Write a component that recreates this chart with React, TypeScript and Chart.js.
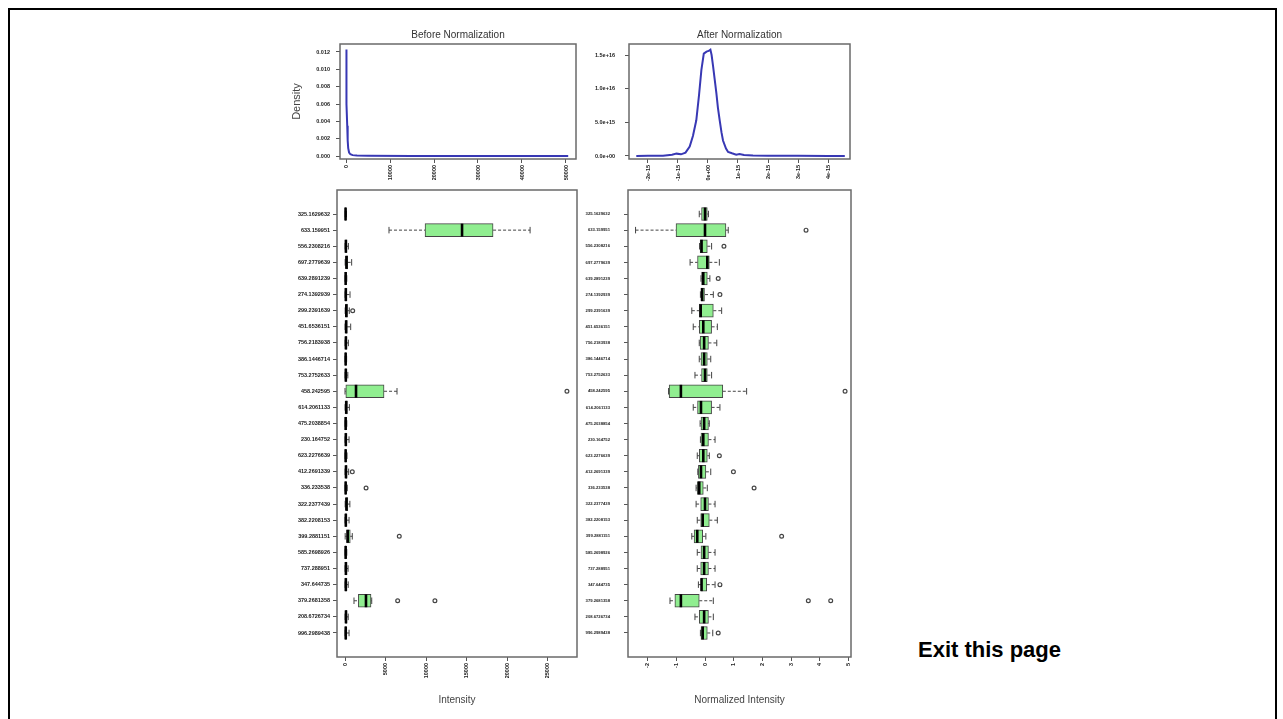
import React, { useEffect, useRef } from 'react';
import { Chart, registerables } from 'chart.js';

Chart.register(...registerables);

const FONT = "'Liberation Sans', Arial, sans-serif";
const BLUE = '#3838b4';
const BOX_FILL = '#90ee90';

// ---- Before normalization: density of raw intensity ----
const beforeDensityX = [0, 20, 50, 100, 150, 200, 280, 380, 500, 700, 1000, 1500, 2500, 5000, 15000, 30000, 50500];
const beforeDensityY = [0.0059, 0.0105, 0.0123, 0.0112, 0.0085, 0.006, 0.0035, 0.0018, 0.0009, 0.0004, 0.0002, 0.0001, 0.00005, 0.00002, 0.00001, 0.00001, 0.00001];
const beforeXTicks = [0, 10000, 20000, 30000, 40000, 50000];
const beforeYTicks = [0, 0.002, 0.004, 0.006, 0.008, 0.01, 0.012];

// ---- After normalization: density of normalized intensity ----
const afterDensityX = [-2.39e-15, -2.0e-15, -1.5e-15, -1.2e-15, -1.05e-15, -0.9e-15, -0.75e-15, -0.61e-15, -0.5e-15, -0.39e-15, -0.3e-15, -0.22e-15, -0.14e-15, -0.05e-15, 0.02e-15, 0.08e-15, 0.12e-15, 0.17e-15, 0.22e-15, 0.28e-15, 0.33e-15, 0.39e-15, 0.45e-15, 0.5e-15, 0.6e-15, 0.67e-15, 0.8e-15, 0.94e-15, 1.05e-15, 1.2e-15, 1.5e-15, 2.0e-15, 3.0e-15, 4.0e-15, 4.56e-15];
const afterDensityY = [0, 2e13, 5e13, 2e14, 3.5e14, 2.5e14, 5e14, 1.4e15, 3e15, 5.3e15, 9e15, 1.28e16, 1.52e16, 1.55e16, 1.56e16, 1.58e16, 1.5e16, 1.33e16, 1.15e16, 9.3e15, 7.2e15, 5.3e15, 3.5e15, 2.3e15, 1.1e15, 6e14, 4e14, 2e14, 3e14, 1.5e14, 8e13, 5e13, 2e13, 1e13, 0];
const afterXTicks = [-2e-15, -1e-15, 0, 1e-15, 2e-15, 3e-15, 4e-15];
const afterXTickLabels = ['-2e-15', '-1e-15', '0e+00', '1e-15', '2e-15', '3e-15', '4e-15'];
const afterYTicks = [0, 5e15, 1e16, 1.5e16];
const afterYTickLabels = ['0.0e+00', '5.0e+15', '1.0e+16', '1.5e+16'];

// ---- Features (rows of the box plots) ----
const featureLabels = [
  '325.1629632', '633.159951', '556.2308216', '697.2779639', '639.2891239', '274.1392939',
  '299.2391639', '451.6536151', '756.2183938', '386.1446714', '753.2752633', '458.242595',
  '614.2061133', '475.2038854', '230.164752', '623.2276639', '412.2691339', '336.233538',
  '322.2377439', '382.2208153', '399.2881151', '585.2698926', '737.288951', '347.644735',
  '379.2681358', '208.6726734', '996.2989438',
];

// [lower whisker, Q1, median, Q3, upper whisker]
const rawStats = [
  [20, 40, 70, 110, 180],
  [5430, 9880, 14450, 18280, 22850],
  [10, 60, 110, 200, 420],
  [20, 90, 180, 330, 820],
  [10, 40, 80, 130, 220],
  [10, 50, 100, 180, 620],
  [20, 90, 160, 300, 530],
  [10, 70, 140, 260, 700],
  [10, 50, 110, 200, 420],
  [10, 40, 80, 130, 200],
  [10, 50, 100, 180, 350],
  [0, 100, 1360, 4820, 6420],
  [10, 80, 150, 280, 540],
  [10, 40, 80, 130, 220],
  [10, 50, 100, 180, 500],
  [10, 40, 80, 130, 250],
  [10, 60, 120, 220, 450],
  [10, 40, 80, 140, 280],
  [20, 90, 180, 350, 600],
  [10, 50, 100, 180, 500],
  [20, 200, 330, 650, 900],
  [10, 40, 80, 130, 220],
  [10, 60, 110, 200, 380],
  [10, 50, 100, 190, 400],
  [1110, 1650, 2590, 3210, 3300],
  [10, 60, 120, 220, 400],
  [10, 40, 90, 170, 500],
];
const rawOutliers = [
  [], [], [], [], [], [], [950], [], [], [], [], [27400], [], [], [], [], [900], [2600],
  [], [], [6700], [], [], [], [6500, 11100], [], [],
];
const rawXTicks = [0, 5000, 10000, 15000, 20000, 25000];

const normStats = [
  [-0.2, -0.12, 0.0, 0.08, 0.12],
  [-2.42, -1.01, 0.0, 0.73, 0.81],
  [-0.19, -0.17, -0.12, 0.08, 0.23],
  [-0.52, -0.26, 0.08, 0.15, 0.5],
  [-0.14, -0.12, -0.06, 0.08, 0.17],
  [-0.16, -0.14, -0.1, 0.0, 0.29],
  [-0.46, -0.2, -0.15, 0.29, 0.58],
  [-0.41, -0.2, -0.06, 0.23, 0.43],
  [-0.2, -0.17, -0.03, 0.12, 0.41],
  [-0.2, -0.14, -0.03, 0.08, 0.2],
  [-0.35, -0.12, 0.0, 0.08, 0.23],
  [-1.27, -1.25, -0.84, 0.62, 1.45],
  [-0.41, -0.26, -0.14, 0.23, 0.52],
  [-0.17, -0.14, -0.03, 0.12, 0.15],
  [-0.16, -0.14, -0.06, 0.12, 0.35],
  [-0.27, -0.2, -0.06, 0.08, 0.15],
  [-0.25, -0.23, -0.14, 0.03, 0.2],
  [-0.31, -0.27, -0.2, -0.06, 0.08],
  [-0.31, -0.15, 0.0, 0.12, 0.35],
  [-0.27, -0.15, -0.08, 0.15, 0.43],
  [-0.46, -0.38, -0.27, -0.08, 0.03],
  [-0.27, -0.14, -0.03, 0.12, 0.35],
  [-0.27, -0.15, -0.03, 0.12, 0.35],
  [-0.23, -0.14, -0.12, 0.06, 0.35],
  [-1.22, -1.05, -0.84, -0.2, 0.29],
  [-0.35, -0.2, -0.03, 0.12, 0.29],
  [-0.16, -0.14, -0.08, 0.08, 0.27],
];
const normOutliers = [
  [], [3.52], [0.66], [], [0.46], [0.52], [], [], [], [], [], [4.88], [], [], [], [0.5], [0.99], [1.71],
  [], [], [2.67], [], [], [0.52], [3.6, 4.38], [], [0.46],
];
const normXTicks = [-2, -1, 0, 1, 2, 3, 4, 5];

const BOX_THICK = 13;

const framePlugin = {
  id: 'frame',
  afterDraw(chart: any) {
    const { ctx, chartArea: a } = chart;
    ctx.save();
    ctx.strokeStyle = '#6a6a6a';
    ctx.lineWidth = 1.5;
    ctx.strokeRect(a.left, a.top, a.right - a.left, a.bottom - a.top);
    ctx.restore();
  },
};

function makeBoxPlugin(stats: number[][], outliers: number[][]) {
  return {
    id: 'boxExtras',
    beforeDatasetsDraw(chart: any) {
      const { ctx } = chart;
      const xs = chart.scales.x;
      const ys = chart.scales.y;
      ctx.save();
      ctx.strokeStyle = '#444';
      ctx.lineWidth = 1;
      stats.forEach((s, i) => {
        const yc = ys.getPixelForValue(i);
        const [lo, q1, , q3, hi] = s;
        ctx.setLineDash([3, 2]);
        ctx.beginPath();
        ctx.moveTo(xs.getPixelForValue(lo), yc);
        ctx.lineTo(xs.getPixelForValue(q1), yc);
        ctx.moveTo(xs.getPixelForValue(q3), yc);
        ctx.lineTo(xs.getPixelForValue(hi), yc);
        ctx.stroke();
        ctx.setLineDash([]);
        ctx.beginPath();
        for (const v of [lo, hi]) {
          const px = xs.getPixelForValue(v);
          ctx.moveTo(px, yc - BOX_THICK / 4);
          ctx.lineTo(px, yc + BOX_THICK / 4);
        }
        ctx.stroke();
      });
      ctx.restore();
    },
    afterDatasetsDraw(chart: any) {
      const { ctx } = chart;
      const xs = chart.scales.x;
      const ys = chart.scales.y;
      ctx.save();
      stats.forEach((s, i) => {
        const yc = ys.getPixelForValue(i);
        const px = xs.getPixelForValue(s[2]);
        ctx.strokeStyle = '#000';
        ctx.lineWidth = 2.6;
        ctx.beginPath();
        ctx.moveTo(px, yc - BOX_THICK / 2);
        ctx.lineTo(px, yc + BOX_THICK / 2);
        ctx.stroke();
        ctx.strokeStyle = '#444';
        ctx.lineWidth = 1.2;
        for (const o of outliers[i]) {
          ctx.beginPath();
          ctx.arc(xs.getPixelForValue(o), yc, 1.9, 0, Math.PI * 2);
          ctx.stroke();
        }
      });
      ctx.restore();
    },
  };
}

const tickFont = { size: 5.5, family: FONT, weight: 'bold' as const };
const gridCommon = { drawOnChartArea: false, tickLength: 4, color: '#555', tickWidth: 1 };

function fixX(h: number) {
  return (s: any) => { s.height = h; s.paddingLeft = 0; s.paddingRight = 0; };
}
function fixY(w: number) {
  return (s: any) => { s.width = w; s.paddingTop = 0; s.paddingBottom = 0; };
}

function densityConfig(opts: {
  xs: number[]; ys: number[]; title: string; xMin: number; xMax: number; yMin: number; yMax: number;
  xTicks: number[]; xLabel: (v: number, i: number) => string; yTicks: number[]; yLabel: (v: number, i: number) => string;
  yWidth: number; rightPad: number; yPad: number; yTitle?: string;
}) {
  return {
    type: 'line' as const,
    data: {
      datasets: [{
        data: opts.xs.map((x, i) => ({ x, y: opts.ys[i] })),
        borderColor: BLUE,
        borderWidth: 2,
        pointRadius: 0,
        tension: 0,
        fill: false,
      }],
    },
    options: {
      animation: false as const,
      responsive: false,
      devicePixelRatio: 1,
      layout: { padding: { left: 0, right: opts.rightPad, top: 0, bottom: 0 } },
      plugins: {
        legend: { display: false },
        tooltip: { enabled: false },
        title: {
          display: true, text: opts.title, fullSize: false, color: '#333',
          font: { size: 10, family: FONT, weight: 'normal' as const }, padding: { top: 9, bottom: 3 },
        },
      },
      scales: {
        x: {
          type: 'linear' as const, min: opts.xMin, max: opts.xMax,
          afterBuildTicks: (s: any) => { s.ticks = opts.xTicks.map((v) => ({ value: v })); },
          afterFit: fixX(31),
          ticks: { minRotation: 90, maxRotation: 90, autoSkip: false, padding: 2, font: tickFont, color: '#222', callback: (v: any, i: number) => opts.xLabel(v, i) },
          grid: gridCommon,
          border: { display: false },
        },
        y: {
          type: 'linear' as const, min: opts.yMin, max: opts.yMax,
          afterBuildTicks: (s: any) => { s.ticks = opts.yTicks.map((v) => ({ value: v })); },
          afterFit: fixY(opts.yWidth),
          ticks: { autoSkip: false, padding: opts.yPad, font: tickFont, color: '#222', callback: (v: any, i: number) => opts.yLabel(v, i) },
          grid: gridCommon,
          border: { display: false },
          title: opts.yTitle
            ? { display: true, text: opts.yTitle, color: '#444', font: { size: 11, family: FONT }, padding: { top: 10.4, bottom: 0 } }
            : { display: false },
        },
      },
    },
    plugins: [framePlugin],
  };
}

function boxConfig(opts: {
  stats: number[][]; outliers: number[][]; xMin: number; xMax: number; xTicks: number[];
  yWidth: number; rightPad: number; yPad: number; yFontSize: number; xTitle: string;
}) {
  return {
    type: 'bar' as const,
    data: {
      datasets: [{
        data: opts.stats.map((s, i) => ({ x: [s[1], s[3]], y: i })),
        backgroundColor: BOX_FILL,
        borderColor: '#444',
        borderWidth: 1,
        borderSkipped: false,
        barThickness: BOX_THICK,
      }],
    },
    options: {
      indexAxis: 'y' as const,
      animation: false as const,
      responsive: false,
      devicePixelRatio: 1,
      layout: { padding: { left: 0, right: opts.rightPad, top: 10, bottom: 0 } },
      plugins: { legend: { display: false }, tooltip: { enabled: false } },
      scales: {
        x: {
          type: 'linear' as const, min: opts.xMin, max: opts.xMax, beginAtZero: false,
          afterBuildTicks: (s: any) => { s.ticks = opts.xTicks.map((v) => ({ value: v })); },
          afterFit: fixX(53),
          ticks: { minRotation: 90, maxRotation: 90, autoSkip: false, padding: 2, font: tickFont, color: '#222', callback: (v: any) => String(v) },
          grid: gridCommon,
          border: { display: false },
          title: { display: true, text: opts.xTitle, color: '#444', font: { size: 10, family: FONT }, padding: { top: 0, bottom: 4 } },
        },
        y: {
          type: 'linear' as const, min: -1.49, max: 27.49, reverse: true, offset: false,
          afterBuildTicks: (s: any) => { s.ticks = featureLabels.map((_, i) => ({ value: i })); },
          afterFit: fixY(opts.yWidth),
          ticks: {
            autoSkip: false, padding: opts.yPad, color: '#222',
            font: { ...tickFont, size: opts.yFontSize },
            callback: (_v: any, i: number) => featureLabels[i],
          },
          grid: { ...gridCommon, offset: false },
          border: { display: false },
        },
      },
    },
    plugins: [makeBoxPlugin(opts.stats, opts.outliers), framePlugin],
  };
}

function ChartCanvas(props: { left: number; top: number; width: number; height: number; makeConfig: () => any }) {
  const ref = useRef<HTMLCanvasElement>(null);
  useEffect(() => {
    const chart = new Chart(ref.current as HTMLCanvasElement, props.makeConfig());
    return () => chart.destroy();
  }, []);
  const { left, top, width, height } = props;
  return (
    <div style={{ position: 'absolute', left, top, width, height }}>
      <canvas ref={ref} width={width} height={height} style={{ width, height, display: 'block' }} />
    </div>
  );
}

export default function App() {
  return (
    <div style={{ position: 'fixed', left: 0, top: 0, right: 0, bottom: 0, overflow: 'hidden', background: '#fff' }}>
      <div style={{ position: 'absolute', left: 8, top: 8, width: 1269, height: 800, border: '2px solid #000', boxSizing: 'border-box' }} />
      <ChartCanvas
        left={280} top={20} width={300} height={170}
        makeConfig={() => densityConfig({
          xs: beforeDensityX, ys: beforeDensityY, title: 'Before Normalization',
          xMin: -1364, xMax: 52273, yMin: -0.000346, yMax: 0.012923,
          xTicks: beforeXTicks, xLabel: (v) => String(v),
          yTicks: beforeYTicks, yLabel: (v) => Number(v).toFixed(3),
          yWidth: 60, rightPad: 4, yPad: 6, yTitle: 'Density',
        })}
      />
      <ChartCanvas
        left={560} top={20} width={300} height={170}
        makeConfig={() => densityConfig({
          xs: afterDensityX, ys: afterDensityY, title: 'After Normalization',
          xMin: -2.633e-15, xMax: 4.733e-15, yMin: -4.46e14, yMax: 1.6634e16,
          xTicks: afterXTicks, xLabel: (_v, i) => afterXTickLabels[i],
          yTicks: afterYTicks, yLabel: (_v, i) => afterYTickLabels[i],
          yWidth: 69, rightPad: 10, yPad: 10,
        })}
      />
      <ChartCanvas
        left={270} top={180} width={312} height={530}
        makeConfig={() => boxConfig({
          stats: rawStats, outliers: rawOutliers, xMin: -988, xMax: 28642, xTicks: rawXTicks,
          yWidth: 67, rightPad: 5, yPad: 3, yFontSize: 5.5, xTitle: 'Intensity',
        })}
      />
      <ChartCanvas
        left={560} top={180} width={300} height={530}
        makeConfig={() => boxConfig({
          stats: normStats, outliers: normOutliers, xMin: -2.683, xMax: 5.087, xTicks: normXTicks,
          yWidth: 68, rightPad: 9, yPad: 14, yFontSize: 4.2, xTitle: 'Normalized Intensity',
        })}
      />
      <div style={{ position: 'absolute', left: 918, top: 639, fontFamily: "'Liberation Sans', Arial, sans-serif", fontWeight: 'bold', fontSize: 22, lineHeight: '21px', color: '#000', whiteSpace: 'nowrap' }}>
        Exit this page
      </div>
    </div>
  );
}
